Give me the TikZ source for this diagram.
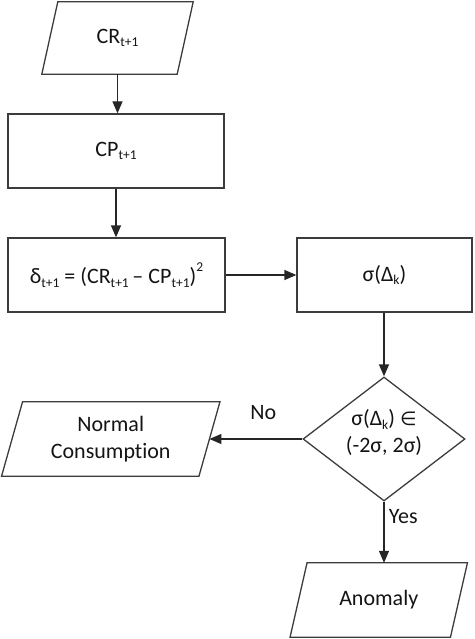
\documentclass[tikz,border=0pt]{standalone}
\usepackage{fontspec}
\setmainfont[Ligatures=NoCommon]{Carlito}
\newfontfamily\symf{DejaVu Sans}
\usetikzlibrary{shapes.geometric,arrows.meta}
\definecolor{linec}{RGB}{60,60,60}
\definecolor{txt}{RGB}{20,20,20}
\newcommand{\lo}[1]{\raisebox{-0.35ex}{\fontsize{13.5}{14}\selectfont #1}}
\newcommand{\hi}[1]{\raisebox{1.15ex}{\fontsize{13.5}{14}\selectfont #1}}
\newcommand{\para}[2]{%
  \draw[pline] ([xshift=#2/2]#1.north west) -- ([xshift=#2/2]#1.north east)
    -- ([xshift=-#2/2]#1.south east) -- ([xshift=-#2/2]#1.south west) -- cycle;}
\begin{document}
\begin{tikzpicture}[x=1pt,y=-1pt,
  lbl/.style={font=\fontsize{22}{27}\selectfont, text=txt, align=center},
  box/.style={lbl, draw=linec, line width=1.3pt, inner sep=0pt},
  slot/.style={lbl, inner sep=0pt},
  pline/.style={draw=linec, line width=1.3pt},
  arr/.style={draw=black!85, line width=1.3pt, -{Triangle[length=12pt,width=10pt]}},
  dec/.style={lbl, diamond, draw=linec, line width=1.3pt, inner sep=0pt}]
\useasboundingbox (0,0) rectangle (474,639);

\node[slot, minimum width=135pt, minimum height=72pt] (cr) at (117.5,38) {CR\lo{t+1}};
\para{cr}{16pt}
\node[box, minimum width=216pt, minimum height=74pt] (cp) at (116,151) {CP\lo{t+1}};
\node[box, minimum width=217pt, minimum height=74pt] (dl) at (116.5,275)
  {δ\lo{t+1} = (CR\lo{t+1}\,– CP\lo{t+1})\hi{2}};
\node[box, minimum width=175pt, minimum height=74pt] (sg) at (384.5,275) {σ(Δ\lo{k})};
\node[dec, minimum width=162pt, minimum height=124pt] (dc) at (384,439)
  {\raisebox{0pt}[0pt][0pt]{\begin{tabular}{@{}c@{}}σ(Δ\lo{k}) {\symf\fontsize{19}{20}\selectfont ∈}\\(-2σ, 2σ)\end{tabular}}};
\node[slot, minimum width=197pt, minimum height=74pt] (nc) at (110.75,439) {Normal\\Consumption};
\para{nc}{21pt}
\node[slot, minimum width=160pt, minimum height=74pt] (an) at (378.75,600) {Anomaly};
\para{an}{17pt}

\draw[arr] (cr.south) -- (cr.south |- cp.north);
\draw[arr] (cp.south) -- (cp.south |- dl.north);
\draw[arr] (dl.east) -- (sg.west);
\draw[arr] (sg.south -| dc.north) -- (dc.north);
\draw[arr] (dc.west) -- node[lbl, pos=0.42, above=15pt] (no) {No} (nc.east);
\draw[arr] (dc.south) -- node[lbl, pos=0.25, right=1pt] (yes) {Yes} (dc.south |- an.north);
\end{tikzpicture}
\end{document}
